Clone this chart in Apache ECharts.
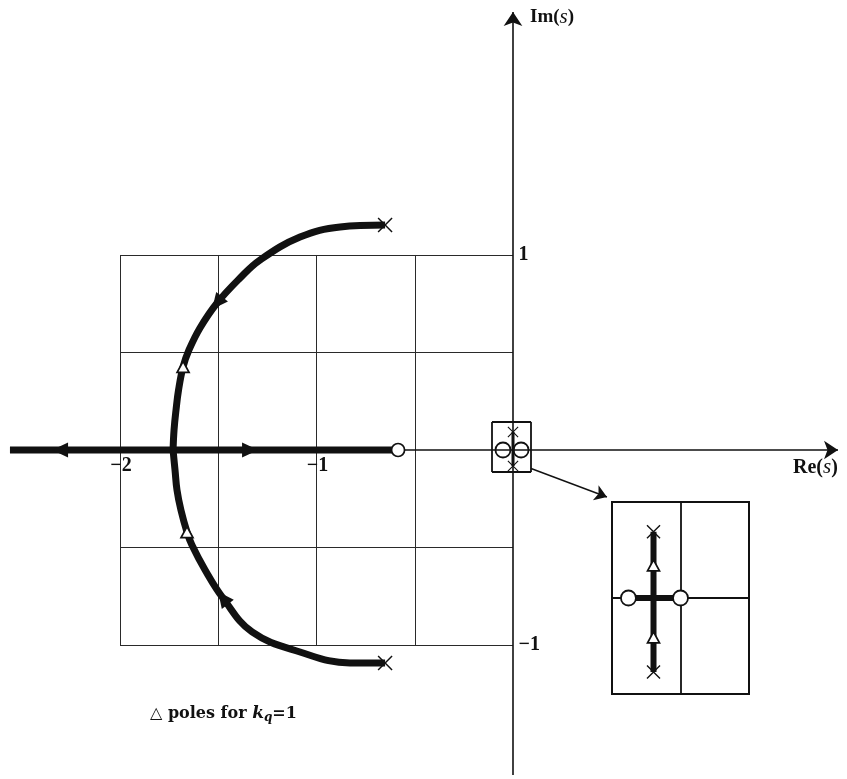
<!DOCTYPE html>
<html>
<head>
<meta charset="utf-8">
<script src="https://cdn.jsdelivr.net/npm/echarts@6/dist/echarts.min.js"></script>
<style>
  html, body { margin: 0; padding: 0; background: #fff; }
  #chart { width: 847px; height: 779px; }
</style>
</head>
<body>
<div id="chart"></div>
<script>
// s-plane extents of the main view
const X_MIN = -2.6107, X_MAX = 1.6997;
const Y_MIN = -1.6872, Y_MAX = 2.3077;

// Axis extents (Re and Im axes drawn with arrow heads)
const reAxis = [[-2.56, 0], [1.654, 0]];
const imAxis = [[0, -1.667], [0, 2.246]];

// Grid lines inside [-2,0] x [-1,1]
const gridX = [-2, -1.5, -1, -0.5];
const gridY = [1, 0.5, -0.5, -1];

// Tick labels
const xTicks = [-2, -1];
const xTickLabels = ['\u22122', '\u22121'];
const yTicks = [1, -1];
const yTickLabels = ['1', '\u22121'];

// Root locus branches
const realBranch = [[-2.56, 0], [-0.585, 0]];
const upperBranch = [
  [-0.651, 1.154], [-0.880, 1.144], [-1.084, 1.092], [-1.288, 0.974],
  [-1.389, 0.882], [-1.506, 0.754], [-1.593, 0.626], [-1.649, 0.513],
  [-1.679, 0.426], [-1.702, 0.308], [-1.715, 0.205], [-1.725, 0.103],
  [-1.730, 0]
];
const lowerBranch = [
  [-0.651, -1.092], [-0.830, -1.092], [-1.084, -1.036], [-1.328, -0.933],
  [-1.476, -0.759], [-1.567, -0.615], [-1.634, -0.487], [-1.659, -0.421],
  [-1.690, -0.308], [-1.710, -0.205], [-1.720, -0.103], [-1.730, 0]
];

// Open-loop poles and zeros
const poles = [[-0.651, 1.154], [-0.651, -1.092]];
const zeros = [[-0.585, 0]];
// Closed-loop poles for k_q = 1
const kqPoles = [[-1.679, 0.426], [-1.659, -0.421]];
// Direction arrows along the locus: position and heading (degrees)
const arrowPos = [[-2.305, 0], [-1.338, 0], [-1.506, 0.754], [-1.476, -0.759]];
const arrowHeading = [180, 0, -128.7, 127.2];

// Detail near the origin
const originBox = [[-0.107, 0.144], [0.092, -0.113]];
const originPoles = [[0, 0.092], [0, -0.082]];
const originZeros = [[-0.051, 0], [0.041, 0]];
const originBranch = [[0, 0.092], [0, -0.082]];
const connector = [[0.092, -0.095], [0.478, -0.241]];

// Magnified inset of the origin region
const insetCross = [[[-1, 0], [1, 0]], [[0, -1], [0, 1]]];
const insetVertical = [[-0.394, 0.69], [-0.394, -0.77]];
const insetHorizontal = [[-0.76, 0], [0, 0]];
const insetPoles = [[-0.394, 0.69], [-0.394, -0.77]];
const insetZeros = [[-0.76, 0], [0, 0]];
const insetKqPoles = [[-0.394, 0.34], [-0.394, -0.41]];

const INK = '#111';
const FONT = 'Liberation Serif';
// thin "x" glyph used for poles
const CROSS = 'path://M0.7,0L5,4.3L9.3,0L10,0.7L5.7,5L10,9.3L9.3,10L5,5.7L0.7,10L0,9.3L4.3,5L0,0.7Z';

function segs(list) {
  return list.map(c => ({ coords: c }));
}

const gridSegs = [
  ...gridX.map(x => [[x, -1], [x, 1]]),
  ...gridY.map(y => [[-2, y], [0, y]])
];
const [b0, b1] = originBox;
const boxSegs = [
  [[b0[0], b0[1]], [b1[0], b0[1]]],
  [[b1[0], b0[1]], [b1[0], b1[1]]],
  [[b1[0], b1[1]], [b0[0], b1[1]]],
  [[b0[0], b1[1]], [b0[0], b0[1]]]
];

const solid = { color: INK, opacity: 1 };
const hollow = { color: '#fff', borderColor: INK, borderWidth: 1.7, opacity: 1 };

const chart = echarts.init(document.getElementById('chart'), null, { renderer: 'canvas' });

const option = {
  backgroundColor: '#fff',
  animation: false,
  grid: [
    { left: 0, right: 0, top: 0, bottom: 0 },
    { left: 612, top: 502, width: 137, height: 192, show: true,
      backgroundColor: '#fff', borderColor: INK, borderWidth: 2, z: 10 }
  ],
  xAxis: [
    { type: 'value', min: X_MIN, max: X_MAX, show: false, gridIndex: 0 },
    { type: 'value', min: -1, max: 1, show: false, gridIndex: 1 }
  ],
  yAxis: [
    { type: 'value', min: Y_MIN, max: Y_MAX, show: false, gridIndex: 0 },
    { type: 'value', min: -1, max: 1, show: false, gridIndex: 1 }
  ],
  series: [
    { type: 'lines', coordinateSystem: 'cartesian2d', data: segs(gridSegs),
      lineStyle: { color: '#2a2a2a', width: 1, opacity: 1 }, z: 1, silent: true },
    { type: 'lines', coordinateSystem: 'cartesian2d', data: segs([reAxis, imAxis]),
      symbol: ['none', 'arrow'], symbolSize: [10, 14],
      lineStyle: { color: INK, width: 1.6, opacity: 1 }, z: 2, silent: true },
    { type: 'line', data: realBranch, showSymbol: false,
      lineStyle: { color: INK, width: 7 }, z: 3, silent: true },
    { type: 'line', data: upperBranch, smooth: 0.4, showSymbol: false,
      lineStyle: { color: INK, width: 7 }, z: 3, silent: true },
    { type: 'line', data: lowerBranch, smooth: 0.4, showSymbol: false,
      lineStyle: { color: INK, width: 7 }, z: 3, silent: true },
    { type: 'scatter', z: 5, silent: true,
      data: arrowPos.map((p, i) => ({ value: p, symbolRotate: arrowHeading[i] - 90 })),
      symbol: 'triangle', symbolSize: [15, 16], itemStyle: solid },
    { type: 'scatter', data: poles, symbol: CROSS, symbolSize: 15, z: 6, silent: true,
      itemStyle: solid },
    { type: 'scatter', data: zeros, symbol: 'circle', symbolSize: 13, z: 6, silent: true,
      itemStyle: hollow },
    { type: 'scatter', data: kqPoles, symbol: 'triangle', symbolSize: [12, 11], z: 6, silent: true,
      itemStyle: hollow },
    // origin detail
    { type: 'lines', coordinateSystem: 'cartesian2d', data: segs(boxSegs),
      lineStyle: { color: INK, width: 1.8, opacity: 1 }, z: 4, silent: true },
    { type: 'line', data: originBranch, showSymbol: false,
      lineStyle: { color: INK, width: 3 }, z: 4, silent: true },
    { type: 'scatter', data: originZeros, symbol: 'circle', symbolSize: 15, z: 5, silent: true,
      itemStyle: { color: 'rgba(0,0,0,0)', borderColor: INK, borderWidth: 1.8, opacity: 1 } },
    { type: 'scatter', data: originPoles, symbol: CROSS, symbolSize: 11, z: 6, silent: true,
      itemStyle: solid },
    { type: 'lines', coordinateSystem: 'cartesian2d', data: segs([connector]),
      symbol: ['none', 'arrow'], symbolSize: [9, 12],
      lineStyle: { color: INK, width: 1.4, opacity: 1 }, z: 4, silent: true },
    // tick labels
    { type: 'scatter', symbolSize: 1, z: 7, silent: true,
      data: xTicks.map((v, i) => ({ value: [v, 0], name: xTickLabels[i] })),
      itemStyle: { color: 'rgba(0,0,0,0)', opacity: 1 },
      label: { show: true, formatter: '{b}', position: 'bottom', distance: 5, offset: [1, 0],
        color: INK, fontFamily: FONT, fontSize: 20, fontWeight: 'bold' } },
    { type: 'scatter', symbolSize: 1, z: 7, silent: true,
      data: yTicks.map((v, i) => ({ value: [0, v], name: yTickLabels[i] })),
      itemStyle: { color: 'rgba(0,0,0,0)', opacity: 1 },
      label: { show: true, formatter: '{b}', position: 'right', distance: 5,
        color: INK, fontFamily: FONT, fontSize: 20, fontWeight: 'bold' } },
    // inset
    { type: 'lines', coordinateSystem: 'cartesian2d', xAxisIndex: 1, yAxisIndex: 1,
      data: segs(insetCross), lineStyle: { color: INK, width: 1.8, opacity: 1 }, z: 11, silent: true },
    { type: 'line', xAxisIndex: 1, yAxisIndex: 1, data: insetVertical, showSymbol: false,
      lineStyle: { color: INK, width: 6 }, z: 12, silent: true },
    { type: 'line', xAxisIndex: 1, yAxisIndex: 1, data: insetHorizontal, showSymbol: false,
      lineStyle: { color: INK, width: 6 }, z: 12, silent: true },
    { type: 'scatter', xAxisIndex: 1, yAxisIndex: 1, data: insetPoles, symbol: CROSS, symbolSize: 14,
      z: 13, silent: true, itemStyle: solid },
    { type: 'scatter', xAxisIndex: 1, yAxisIndex: 1, data: insetZeros, symbol: 'circle', symbolSize: 15,
      z: 13, silent: true, itemStyle: { color: '#fff', borderColor: INK, borderWidth: 1.8, opacity: 1 } },
    { type: 'scatter', xAxisIndex: 1, yAxisIndex: 1, data: insetKqPoles, symbol: 'triangle',
      symbolSize: [12, 11], z: 13, silent: true, itemStyle: hollow }
  ],
  graphic: [
    { type: 'text', left: 530, top: 7, z: 20, silent: true,
      style: { text: 'Im({s|s})', fill: INK, font: 'bold 19px "Liberation Serif"',
        rich: { s: { fontStyle: 'italic', fontWeight: 'normal', fontSize: 21, fontFamily: FONT, fill: INK } } } },
    { type: 'text', left: 793, top: 457, z: 20, silent: true,
      style: { text: 'Re({s|s})', fill: INK, font: 'bold 20px "Liberation Serif"',
        rich: { s: { fontStyle: 'italic', fontWeight: 'normal', fontSize: 21, fontFamily: FONT, fill: INK } } } },
    { type: 'text', left: 150, top: 705, z: 20, silent: true,
      style: { text: '\u25B3 poles for {k|k}{q|q}{e|=1}', fill: INK, font: 'bold 16px "DejaVu Serif"',
        rich: {
          k: { fontStyle: 'italic', fontWeight: 'bold', fontSize: 17, fontFamily: 'DejaVu Serif', fill: INK },
          q: { fontStyle: 'italic', fontWeight: 'bold', fontSize: 12, fontFamily: 'DejaVu Serif', fill: INK, padding: [8, 0, 0, 0] },
          e: { fontWeight: 'bold', fontSize: 16, fontFamily: 'DejaVu Serif', fill: INK }
        } } }
  ]
};

chart.setOption(option);
</script>
</body>
</html>
